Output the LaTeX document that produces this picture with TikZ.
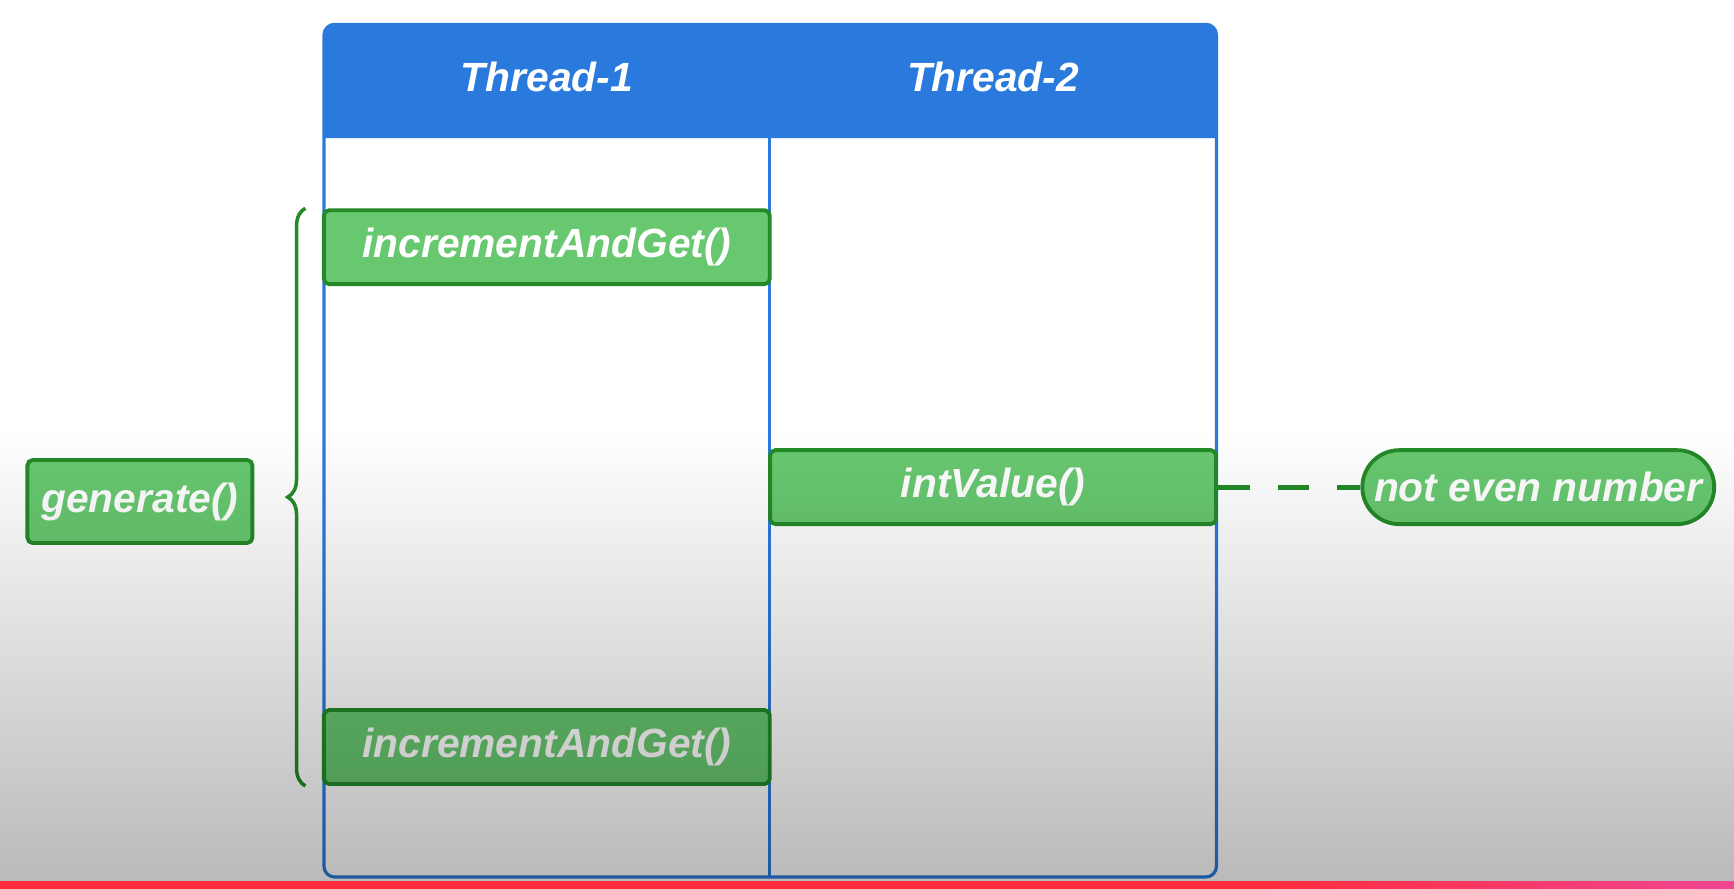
\documentclass[tikz,border=0pt]{standalone}
\usepackage{fontspec}
\setmainfont{Liberation Sans}
\usepackage{tikz}
\usetikzlibrary{decorations.pathreplacing}
\usetikzlibrary{fadings}
\definecolor{headblue}{RGB}{42,122,222}
\definecolor{linegreen}{RGB}{36,138,40}
\definecolor{boxgreen}{RGB}{104,200,112}
\definecolor{barred}{RGB}{255,45,60}
\definecolor{barpink}{RGB}{240,70,150}
\tikzstyle{labeltext}=[text=white, font=\fontsize{11.6}{13}\selectfont\bfseries\itshape]
\tikzstyle{callbox}=[labeltext, draw=linegreen, fill=boxgreen, line width=1.1pt, rounded corners=1.5pt, inner sep=0pt, minimum height=0.74cm]
\tikzstyle{lanebox}=[callbox, minimum width=4.46cm]
\tikzstyle{pillbox}=[callbox, rounded corners=0.37cm, minimum width=3.52cm]

\begin{document}
\begin{tikzpicture}[x=0.01106cm, y=-0.01106cm]
        \useasboundingbox (0,0) rectangle (1568,803);
        \clip (0,0) rectangle (1568,803);
        \fill[white] (-10,-10) rectangle (1580,815);
        % table with two threads
        \fill[headblue] (293,125) [rounded corners=3pt] -- (293,22) -- (1100,22) [sharp corners] -- (1100,125) -- cycle;
        \draw[headblue, line width=0.9pt, rounded corners=3pt] (293,22) rectangle (1100,793);
        \draw[headblue, line width=0.9pt] (696,125) -- (696,793);
        \node[labeltext] (T1) at (494.5,70) {Thread-1};
        \node[labeltext] (T2) at (898,70) {Thread-2};
        \node[lanebox] (inc1) at (494.5,223.5) {incrementAndGet()};
        \node[lanebox] (inc2) at (494.5,675.5) {incrementAndGet()};
        \node[lanebox] (intv) at (898,440.5) {intValue()};
        \node[pillbox] (odd) at (1391,440.5) {not even number};
        \node[callbox, minimum width=2.25cm, minimum height=0.83cm] (gen) at (126.5,453.5) {generate()};
        \draw[linegreen, line width=1pt, decorate, decoration={brace, amplitude=0.177cm}]
            ([xshift=-0.166cm]inc2.south west) -- ([xshift=-0.166cm]inc1.north west);
        \draw[linegreen, line width=1.4pt, dash pattern=on 9pt off 8pt] (intv.east) -- (odd.west);
        % darker lower part
        \fill[black, fill opacity=0.28, path fading=north] (-10,390) rectangle (1580,805);
        \fill[barred] (-10,797) rectangle (1580,815);
        \shade[left color=barred, right color=barpink] (1150,797) rectangle (1580,815);
    \end{tikzpicture}
\end{document}
